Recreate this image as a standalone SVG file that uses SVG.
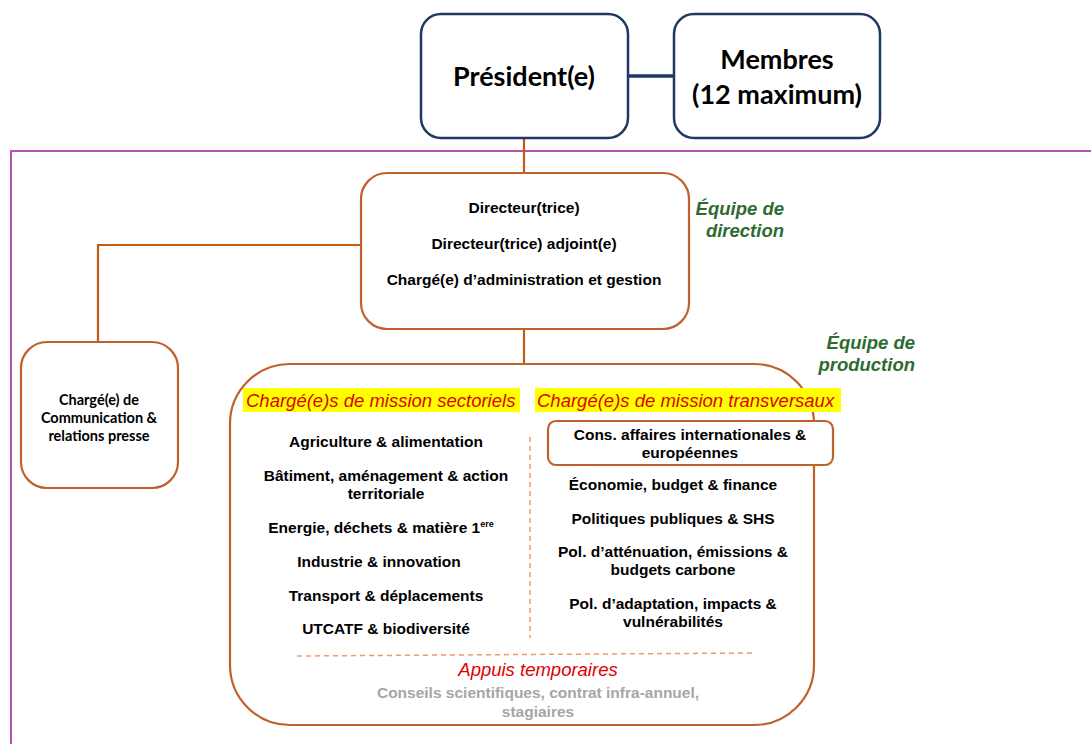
<svg xmlns="http://www.w3.org/2000/svg" width="1091" height="744" viewBox="0 0 1091 744">
<style>
.top{fill:#fff;stroke:#1F3864;stroke-width:2.5}
.org{fill:#fff;stroke:#C0612B;stroke-width:2.2}
.ln{fill:none;stroke:#C55A11;stroke-width:2.2}
.dash{fill:none;stroke:#F4976C;stroke-width:1.5;stroke-dasharray:5,4}
.t{font-family:"Liberation Sans",Arial,sans-serif;font-weight:bold;font-size:15.5px;fill:#000;text-anchor:middle}
.big{font-family:Lato,"Noto Sans",sans-serif;font-weight:bold;font-size:27px;fill:#000;text-anchor:middle}
.cal{font-family:Lato,"Noto Sans",sans-serif;font-weight:bold;font-size:14.5px;fill:#000;text-anchor:middle}
.hd{font-family:"Liberation Sans",Arial,sans-serif;font-style:italic;font-size:18.5px;fill:#E00000}
.gr{font-family:"Liberation Sans",Arial,sans-serif;font-style:italic;font-weight:bold;font-size:18.5px;fill:#2E6B30;text-anchor:end}
.grey{font-family:"Liberation Sans",Arial,sans-serif;font-weight:bold;font-size:15.5px;fill:#A6A6A6;text-anchor:middle}
</style>
<rect width="1091" height="744" fill="#fff"/>
<path d="M11,744 V151 H1091" fill="none" stroke="#B455B6" stroke-width="2"/>
<g id="connectors">
<line x1="628" y1="76" x2="674" y2="76" stroke="#1F3864" stroke-width="3.5"/>
<line class="ln" x1="524" y1="138" x2="524" y2="173"/>
<polyline class="ln" points="361,245 98,245 98,343" stroke-width="3"/>
<line class="ln" x1="524" y1="329" x2="524" y2="364"/>
</g>
<g id="president">
<rect class="top" x="421" y="14" width="207" height="124" rx="20"/>
<text class="big" x="524" y="86">Président(e)</text>
</g>
<g id="membres">
<rect class="top" x="674" y="14" width="206" height="124" rx="20"/>
<text class="big" x="777" y="69">Membres</text>
<text class="big" x="777" y="104">(12 maximum)</text>
</g>
<g id="direction">
<rect class="org" x="361" y="173" width="328" height="156" rx="26"/>
<text class="t" x="524" y="213">Directeur(trice)</text>
<text class="t" x="524" y="249">Directeur(trice) adjoint(e)</text>
<text class="t" x="524" y="285">Chargé(e) d’administration et gestion</text>
</g>
<g id="label-direction">
<text class="gr" x="784" y="215">Équipe de</text>
<text class="gr" x="784" y="237">direction</text>
</g>
<g id="communication">
<rect class="org" x="21" y="342" width="157" height="146" rx="26"/>
<text class="cal" x="99" y="405">Chargé(e) de</text>
<text class="cal" x="99" y="423">Communication &amp;</text>
<text class="cal" x="99" y="441">relations presse</text>
</g>
<g id="label-production">
<text class="gr" x="915" y="349">Équipe de</text>
<text class="gr" x="915" y="371">production</text>
</g>
<g id="production">
<rect class="org" x="230" y="364" width="584" height="361" rx="60"/>
<rect x="243" y="388" width="277" height="24" fill="#FFFF00"/>
<rect x="535" y="388" width="306" height="24" fill="#FFFF00"/>
<text class="hd" x="246" y="407">Chargé(e)s de mission sectoriels</text>
<text class="hd" x="537" y="407">Chargé(e)s de mission transversaux</text>
<line class="dash" x1="530" y1="437" x2="530" y2="638"/>
<g id="sectoriels">
<text class="t" x="386" y="447">Agriculture &amp; alimentation</text>
<text class="t" x="386" y="481">Bâtiment, aménagement &amp; action</text>
<text class="t" x="386" y="499">territoriale</text>
<text class="t" x="381" y="533">Energie, déchets &amp; matière 1<tspan font-size="9" dy="-6">ere</tspan></text>
<text class="t" x="379" y="567">Industrie &amp; innovation</text>
<text class="t" x="386" y="601">Transport &amp; déplacements</text>
<text class="t" x="386" y="634">UTCATF &amp; biodiversité</text>
</g>
<g id="cons-affaires">
<rect class="org" x="548" y="421" width="285" height="44" rx="8"/>
<text class="t" x="690" y="440">Cons. affaires internationales &amp;</text>
<text class="t" x="690" y="458">européennes</text>
</g>
<g id="transversaux">
<text class="t" x="673" y="490">Économie, budget &amp; finance</text>
<text class="t" x="673" y="524">Politiques publiques &amp; SHS</text>
<text class="t" x="673" y="557">Pol. d’atténuation, émissions &amp;</text>
<text class="t" x="673" y="575">budgets carbone</text>
<text class="t" x="673" y="609">Pol. d’adaptation, impacts &amp;</text>
<text class="t" x="673" y="627">vulnérabilités</text>
</g>
<line class="dash" x1="297" y1="656" x2="753" y2="653"/>
<text class="hd" x="538" y="676" text-anchor="middle" fill="#D00000">Appuis temporaires</text>
<text class="grey" x="538" y="698">Conseils scientifiques, contrat infra-annuel,</text>
<text class="grey" x="538" y="717">stagiaires</text>
</g>
</svg>
